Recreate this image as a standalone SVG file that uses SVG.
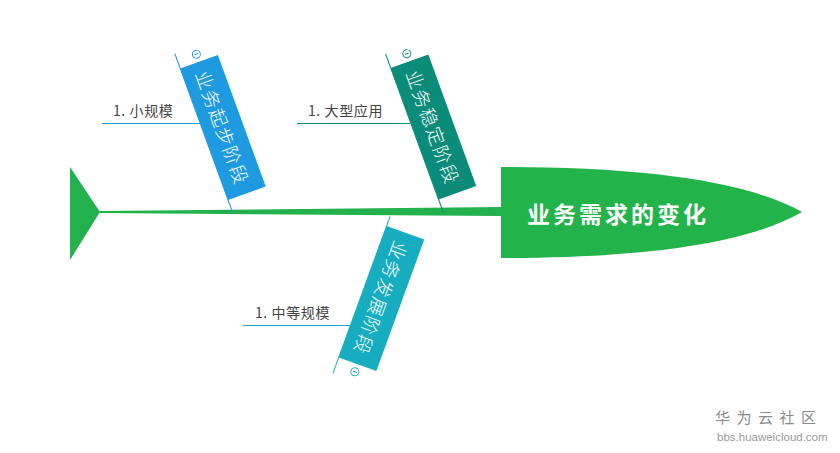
<svg xmlns="http://www.w3.org/2000/svg" width="840" height="453" viewBox="0 0 840 453">
<style>
.bt{font-family:"Noto Sans CJK SC","Noto Sans",sans-serif;font-size:18.5px;font-weight:300;fill:#ffffff;text-anchor:middle;dominant-baseline:central;letter-spacing:1.5px}
.st{font-family:"Noto Sans CJK SC","Liberation Sans",sans-serif;font-size:14px;fill:#444444;letter-spacing:0.6px}
.ic{fill:#ffffff;stroke-width:1}
</style>
<rect width="840" height="453" fill="#ffffff"/>
<g id="tail"><polygon points="70,167 100,212 70,260" fill="#22b14c"/></g>
<g id="connectors">
<polygon points="99,211 501,207 501,216 99,213" fill="#22b14c"/>
<line x1="102" y1="123.5" x2="201" y2="123.5" stroke="#1e9ae0" stroke-width="1.2"/>
<line x1="297" y1="123.5" x2="410" y2="123.5" stroke="#0b8b79" stroke-width="1.2"/>
<line x1="243" y1="325.5" x2="350" y2="325.5" stroke="#17adc0" stroke-width="1.2"/>
</g>
<g id="head">
<path d="M501,167 C640,167 745,180 802,212 C745,245 640,258 501,258 Z" fill="#22b34b"/>
<text x="618" y="213" font-family="'Noto Sans CJK SC',sans-serif" font-size="23" font-weight="bold" fill="#ffffff" text-anchor="middle" dominant-baseline="central" letter-spacing="3">业务需求的变化</text>
</g>
<g id="bone1" transform="translate(223,127.5) rotate(-20)">
<line x1="-20" y1="-86" x2="-20" y2="84" stroke="#1e9ae0" stroke-width="1"/>
<rect x="-20" y="-70" width="40" height="140" fill="#1e9ae0"/>
<circle cx="0" cy="-78" r="4" class="ic" stroke="#1e9ae0"/>
<line x1="-2" y1="-78" x2="2" y2="-78" stroke="#1e9ae0"/>
<text class="bt" transform="rotate(90)" x="0" y="0">业务起步阶段</text>
</g>
<g id="bone2" transform="translate(433.5,127) rotate(-20)">
<line x1="-20" y1="-85" x2="-20" y2="84" stroke="#0b8b79" stroke-width="1"/>
<rect x="-20" y="-70" width="40" height="140" fill="#0b8b79"/>
<circle cx="0" cy="-78" r="4" class="ic" stroke="#0b8b79"/>
<line x1="-2" y1="-78" x2="2" y2="-78" stroke="#0b8b79"/>
<text class="bt" transform="rotate(90)" x="0" y="0">业务稳定阶段</text>
</g>
<g id="bone3" transform="translate(381.5,298.5) rotate(20)">
<line x1="-20" y1="-80" x2="-20" y2="87" stroke="#17adc0" stroke-width="1"/>
<rect x="-20" y="-70" width="40" height="140" fill="#17adc0"/>
<circle cx="0" cy="78" r="4" class="ic" stroke="#17adc0"/>
<line x1="-2" y1="78" x2="2" y2="78" stroke="#17adc0"/>
<text class="bt" transform="rotate(90)" x="0" y="0">业务发展阶段</text>
</g>
<g id="sub1"><text class="st" x="113" y="116">1. 小规模</text></g>
<g id="sub2"><text class="st" x="308" y="116">1. 大型应用</text></g>
<g id="sub3"><text class="st" x="255" y="318">1. 中等规模</text></g>
<g id="watermark">
<text x="715" y="423" font-family="'Noto Sans CJK SC',sans-serif" font-size="15" fill="#8a8a8a" letter-spacing="6.5">华为云社区</text>
<text x="717" y="441" font-family="'Liberation Sans',sans-serif" font-size="11.5" fill="#999999">bbs.huaweicloud.com</text>
</g>
</svg>
